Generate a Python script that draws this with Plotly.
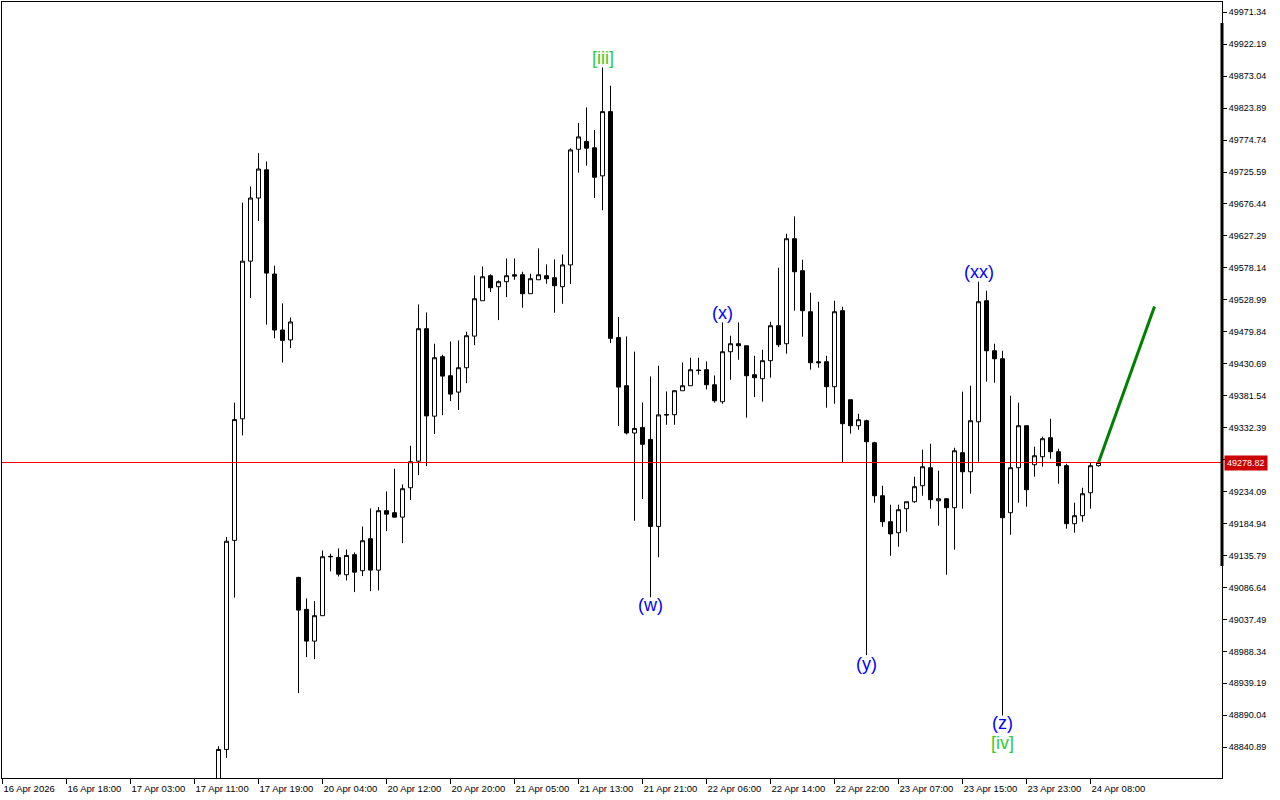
import plotly.graph_objects as go

# ---------------- data (hourly candles, bar index = position on the MT4 time axis) ----------------
first_bar = 27
opens = [48760.0, 48837.5, 49159.0, 49346.0, 49588.5, 49685.6, 49729.0, 49568.7, 49482.6, 49467.3,
         49102.1, 49052.9, 49004.1, 49043.2, 49134.5, 49132.8, 49106.2, 49137.0, 49112.4, 49161.6,
         49113.3, 49204.7, 49201.6, 49194.8, 49240.0, 49280.9, 49484.6, 49350.1, 49441.5, 49412.3,
         49387.1, 49424.6, 49473.2, 49527.6, 49566.1, 49549.2, 49556.9, 49567.6, 49567.6, 49538.4,
         49559.9, 49566.1, 49563.0, 49549.2, 49582.7, 49760.6, 49772.6, 49762.8, 49719.7, 49818.5,
         49470.9, 49396.9, 49324.2, 49332.8, 49314.3, 49180.5, 49352.6, 49352.3, 49389.2, 49396.9,
         49420.9, 49421.5, 49398.4, 49372.3, 49449.2, 49461.5, 49458.4, 49413.8, 49407.7, 49435.4,
         49489.2, 49461.5, 49623.0, 49573.8, 49510.7, 49433.8, 49433.8, 49395.4, 49512.3, 49375.4,
         49335.4, 49343.1, 49309.2, 49227.7, 49187.7, 49170.8, 49207.7, 49218.5, 49243.1, 49270.8,
         49220.0, 49223.1, 49209.3, 49293.9, 49264.6, 49341.5, 49527.6, 49450.7, 49438.4, 49201.6,
         49270.8, 49335.4, 49275.4, 49287.7, 49316.9, 49295.4, 49273.9, 49184.7, 49197.0, 49232.3,
         49273.9]
highs = [48842.4, 49164.2, 49370.9, 49678.5, 49703.4, 49754.5, 49741.7, 49581.5, 49523.5, 49501.8,
         49103.0, 49069.8, 49065.6, 49143.6, 49138.5, 49146.7, 49145.1, 49140.5, 49180.5, 49208.2,
         49210.2, 49234.3, 49269.2, 49245.1, 49304.6, 49521.9, 49509.6, 49461.5, 49444.6, 49465.0,
         49466.6, 49480.0, 49566.5, 49580.4, 49568.1, 49558.9, 49592.7, 49592.7, 49572.2, 49569.2,
         49608.1, 49583.5, 49591.2, 49598.8, 49761.9, 49801.1, 49824.9, 49790.3, 49886.4, 49858.3,
         49502.7, 49472.7, 49449.3, 49371.2, 49411.2, 49427.7, 49388.1, 49389.8, 49432.7, 49440.0,
         49440.0, 49434.3, 49412.7, 49494.3, 49473.8, 49494.3, 49458.4, 49443.0, 49452.3, 49495.3,
         49578.4, 49630.7, 49657.3, 49590.7, 49539.9, 49526.1, 49443.0, 49527.6, 49518.4, 49375.4,
         49353.8, 49344.6, 49310.8, 49243.1, 49213.9, 49213.9, 49218.5, 49256.9, 49298.5, 49307.7,
         49266.2, 49223.1, 49301.5, 49387.7, 49396.9, 49556.9, 49543.0, 49461.5, 49450.7, 49381.5,
         49370.8, 49335.4, 49303.1, 49318.5, 49346.1, 49300.0, 49276.9, 49217.0, 49240.0, 49278.5,
         49280.5]
lows = [48750.0, 48824.6, 49071.0, 49320.5, 49531.8, 49650.4, 49490.9, 49469.8, 49432.7, 49454.6,
        48924.1, 48979.5, 48976.4, 49043.2, 49111.3, 49103.6, 49097.5, 49079.5, 49104.1, 49081.0,
        49082.1, 49173.3, 49194.8, 49154.8, 49221.0, 49259.4, 49273.2, 49322.5, 49351.7, 49373.2,
        49359.4, 49400.9, 49459.3, 49527.6, 49540.9, 49497.8, 49533.2, 49559.9, 49516.9, 49538.4,
        49559.9, 49553.8, 49509.2, 49522.9, 49553.5, 49724.5, 49735.3, 49685.7, 49666.8, 49462.7,
        49334.9, 49322.0, 49189.1, 49222.6, 49071.6, 49133.1, 49336.9, 49336.9, 49389.2, 49396.9,
        49414.3, 49391.2, 49370.8, 49369.2, 49406.1, 49436.9, 49347.7, 49379.4, 49372.3, 49409.2,
        49456.3, 49446.1, 49512.3, 49472.3, 49421.5, 49424.6, 49363.1, 49369.2, 49278.5, 49323.1,
        49329.2, 48982.6, 49217.0, 49180.0, 49135.4, 49149.3, 49172.4, 49217.0, 49227.7, 49207.7,
        49181.6, 49106.2, 49144.7, 49207.7, 49230.8, 49280.0, 49403.1, 49401.5, 48889.8, 49167.7,
        49217.0, 49210.8, 49256.9, 49272.3, 49284.6, 49246.2, 49177.0, 49170.8, 49187.7, 49207.7,
        49272.5]
closes = [48837.5, 49157.7, 49344.8, 49588.5, 49685.6, 49730.2, 49570.1, 49482.6, 49466.6, 49495.0,
          49051.8, 49004.1, 49043.2, 49133.9, 49133.9, 49107.1, 49135.9, 49110.2, 49158.5, 49113.3,
          49204.7, 49199.4, 49194.8, 49238.5, 49280.0, 49484.6, 49350.5, 49440.0, 49411.7, 49384.0,
          49424.6, 49473.8, 49530.7, 49564.5, 49547.6, 49556.9, 49566.1, 49565.5, 49538.4, 49561.5,
          49567.6, 49561.5, 49550.7, 49582.7, 49759.6, 49779.6, 49762.3, 49717.6, 49818.5, 49469.8,
          49394.8, 49324.2, 49331.2, 49306.8, 49180.5, 49352.1, 49352.0, 49389.2, 49396.9, 49421.5,
          49420.4, 49398.4, 49373.8, 49449.2, 49461.5, 49458.4, 49412.3, 49409.2, 49435.4, 49489.2,
          49460.0, 49623.0, 49572.2, 49512.3, 49432.3, 49432.3, 49395.4, 49510.7, 49338.5, 49335.4,
          49344.6, 49310.8, 49227.7, 49187.7, 49169.0, 49206.2, 49218.5, 49241.6, 49272.3, 49221.6,
          49223.1, 49209.3, 49296.9, 49264.6, 49343.1, 49526.1, 49450.7, 49438.4, 49193.9, 49270.8,
          49335.4, 49237.0, 49289.2, 49315.4, 49295.4, 49273.9, 49184.7, 49197.0, 49230.8, 49273.9,
          49278.82]
bars = list(range(first_bar, first_bar + len(opens)))

time_tick_bars = list(range(0, 137, 8))
time_tick_labels = ["16 Apr 2026", "16 Apr 18:00", "17 Apr 03:00", "17 Apr 11:00", "17 Apr 19:00",
                    "20 Apr 04:00", "20 Apr 12:00", "20 Apr 20:00", "21 Apr 05:00", "21 Apr 13:00",
                    "21 Apr 21:00", "22 Apr 06:00", "22 Apr 14:00", "22 Apr 22:00", "23 Apr 07:00",
                    "23 Apr 15:00", "23 Apr 23:00", "24 Apr 08:00"]

price_ticks = [49971.34, 49922.19, 49873.04, 49823.89, 49774.74, 49725.59, 49676.44, 49627.29,
               49578.14, 49528.99, 49479.84, 49430.69, 49381.54, 49332.39, 49283.24, 49234.09,
               49184.94, 49135.79, 49086.64, 49037.49, 48988.34, 48939.19, 48890.04, 48840.89]

bid_price = 49278.82
forecast_bars = [137, 144]
forecast_prices = [49278.82, 49518.9]

wave_labels = ["[iii]", "(x)", "(w)", "(y)", "(xx)", "(z)", "[iv]"]
wave_bars = [75, 90, 81, 108, 122, 125, 125]
wave_prices = [49900.3, 49508.1, 49059.0, 48968.3, 49571.1, 48877.5, 48846.7]
wave_colors = ["#32CD32", "#0000FF", "#0000FF", "#0000FF", "#0000FF", "#0000FF", "#32CD32"]

# ---------------- figure ----------------
FONT = "Liberation Sans, Arial, sans-serif"

fig = go.Figure()

fig.add_trace(go.Candlestick(
    x=bars, open=opens, high=highs, low=lows, close=closes,
    increasing=dict(line=dict(color="black", width=1), fillcolor="white"),
    decreasing=dict(line=dict(color="black", width=1), fillcolor="black"),
    whiskerwidth=0, hoverinfo="skip", showlegend=False,
))

fig.add_trace(go.Scatter(
    x=forecast_bars, y=forecast_prices, mode="lines",
    line=dict(color="#008000", width=3), hoverinfo="skip", showlegend=False,
))

# bid line
fig.add_shape(type="line", xref="paper", x0=0, x1=1, yref="y", y0=bid_price, y1=bid_price,
              line=dict(color="#FF0000", width=1), layer="above")

# thick segment on the price scale
fig.add_shape(type="line", xref="paper", x0=1, x1=1, yref="paper", y0=0.2732, y1=0.9729,
              line=dict(color="black", width=3), layer="above")

annotations = []
for lab, b, p, c in zip(wave_labels, wave_bars, wave_prices, wave_colors):
    annotations.append(dict(x=b, y=p, xref="x", yref="y", text=lab, showarrow=False,
                            font=dict(family=FONT, size=18, color=c),
                            xanchor="center", yanchor="middle"))

annotations.append(dict(x=1, y=bid_price, xref="paper", yref="y", text=f"{bid_price:.2f}",
                        showarrow=False, xanchor="left", yanchor="middle", xshift=2,
                        bgcolor="#CC0000", borderpad=2,
                        font=dict(family=FONT, size=9, color="white")))

price_tick_text = ["" if abs(v - bid_price) < 10 else f"{v:.2f}" for v in price_ticks]

fig.update_layout(
    width=1280, height=800,
    margin=dict(l=2, r=58, t=2, b=22, pad=0),
    paper_bgcolor="white", plot_bgcolor="white",
    boxgap=0.5, boxgroupgap=0,
    showlegend=False,
    annotations=annotations,
    xaxis=dict(
        range=[-0.0625, 152.4375],
        tickmode="array", tickvals=time_tick_bars, ticktext=time_tick_labels,
        ticks="outside", ticklen=5, tickcolor="black", tickwidth=1,
        ticklabelposition="outside right", ticklabelstandoff=2,
        tickfont=dict(family=FONT, size=9.5, color="black"),
        showline=True, linecolor="black", linewidth=1, mirror=True,
        showgrid=False, zeroline=False, automargin=False,
        rangeslider=dict(visible=False),
    ),
    yaxis=dict(
        side="right",
        range=[48793.58, 49987.08],
        tickmode="array", tickvals=price_ticks, ticktext=price_tick_text,
        ticks="outside", ticklen=4, tickcolor="black", tickwidth=1,
        tickfont=dict(family=FONT, size=9, color="black"),
        showline=True, linecolor="black", linewidth=1, mirror=True,
        showgrid=False, zeroline=False, automargin=False,
    ),
)

fig.write_html("out.html", config={"displayModeBar": False},
               post_script="document.body.style.margin='0';document.body.style.padding='0';")
